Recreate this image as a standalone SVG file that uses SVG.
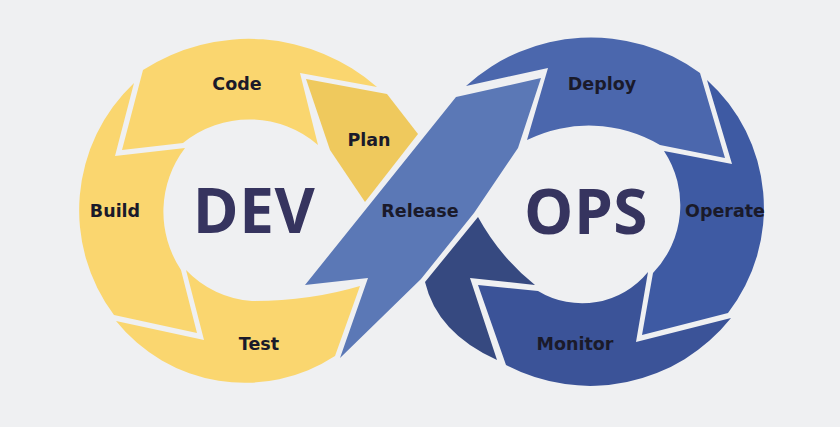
<svg xmlns="http://www.w3.org/2000/svg" width="840" height="427" viewBox="0 0 840 427">
  <style>
    .lbl { font-family: "DejaVu Sans", "Liberation Sans", sans-serif; font-weight: bold; font-size: 17.5px; fill: #1a1a2a; text-anchor: middle; }
    .big { font-family: "Open Sans", "Noto Sans", "Liberation Sans", sans-serif; font-weight: 700; font-size: 62px; fill: #36345f; text-anchor: middle; letter-spacing: 0.5px; }
    .yellow { fill: #fad66f; }
    .plan { fill: #efc95d; }
    .release { fill: #5b78b6; }
    .deploy { fill: #4b67ad; }
    .operate { fill: #3e5aa3; }
    .monitor { fill: #3b5398; }
    .dark { fill: #364980; }
  </style>
  <rect width="840" height="427" fill="#eff0f2"/>

  <g id="code">
    <path class="yellow" d="M143,70 A195,195 0 0 1 377,87 L300,73 L318,145 A105,105 0 0 0 183,143 L122,150 Z"/>
    <text class="lbl" x="237" y="90">Code</text>
  </g>
  <g id="build">
    <path class="yellow" d="M134,83 L115,156 L185,148 A105,105 0 0 0 181,270 L197,333 L114,315 A175,175 0 0 1 134,83 Z"/>
    <text class="lbl" x="115" y="217">Build</text>
  </g>
  <g id="test">
    <path class="yellow" d="M116,321 L204,340 L186,270 A100,100 0 0 0 252,301 Q310,301 360,286 L335,356 A165,165 0 0 1 116,321 Z"/>
    <text class="lbl" x="259" y="350">Test</text>
  </g>
  <g id="plan">
    <path class="plan" d="M306,79 L387,94 L418,134 L365,202 L330,150 Z"/>
    <text class="lbl" x="369" y="146">Plan</text>
  </g>
  <g id="dark-return">
    <path class="dark" d="M478,217 Q500,257 535,285 L470,278 L497,360 Q437,333 425,282 Z"/>
  </g>
  <g id="release">
    <path class="release" d="M305,285 L456,97 L541,78 L518,148 L474,213 L421,279 L340,358 L368,278 Z"/>
    <text class="lbl" x="420" y="217">Release</text>
  </g>
  <g id="deploy">
    <path class="deploy" d="M466,86 A185,185 0 0 1 700,73 L725,158 L660,145 A140,140 0 0 0 527,140 L548,68 Z"/>
    <text class="lbl" x="602" y="90">Deploy</text>
  </g>
  <g id="operate">
    <path class="operate" d="M707,80 L732,164 L664,151 A98,98 0 0 1 653,273 L642,335 L728,313 A172,172 0 0 0 707,80 Z"/>
    <text class="lbl" x="725" y="217">Operate</text>
  </g>
  <g id="monitor">
    <path class="monitor" d="M731,318 L636,342 L648,272 A85,85 0 0 1 538,291 L478,285 L506,365 A180,180 0 0 0 731,318 Z"/>
    <text class="lbl" x="575" y="350">Monitor</text>
  </g>
  <g id="dev">
    <text class="big" x="254" y="233">DEV</text>
  </g>
  <g id="ops">
    <text class="big" x="586" y="234">OPS</text>
  </g>
  <g id="connectors"/>
</svg>
